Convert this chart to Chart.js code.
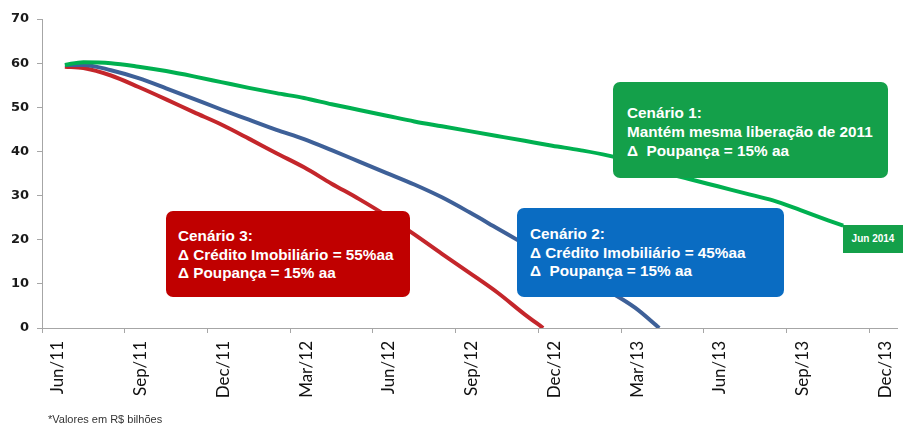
<!DOCTYPE html>
<html><head><meta charset="utf-8">
<script src="https://cdn.jsdelivr.net/npm/chart.js@4/dist/chart.umd.min.js"></script>
<style>
html,body{margin:0;padding:0;background:#fff;}
#wrap{position:relative;width:904px;height:427px;overflow:hidden;}
canvas{position:absolute;left:0;top:0;}
.box{position:absolute;color:#fff;font-family:"Liberation Sans",Arial,sans-serif;font-weight:bold;font-size:15.3px;white-space:pre;box-sizing:border-box;}
#note{position:absolute;left:48px;top:413px;font-family:"Liberation Sans",Arial,sans-serif;font-size:11px;color:#333;white-space:nowrap;}
</style>
</head><body>
<div id="wrap">
<canvas id="c" width="904" height="427"></canvas>
<div class="box" style="left:613px;top:82px;width:275px;height:96px;border-radius:7px;background:#14a04a;padding:21px 0 0 14px;line-height:19px;">Cenário 1:
Mantém mesma liberação de 2011
Δ  Poupança = 15% aa</div>
<div class="box" style="left:843px;top:225px;width:60px;height:28px;background:#14a04a;font-size:10px;line-height:28px;text-align:center;">Jun 2014</div>
<div class="box" style="left:517px;top:208px;width:267px;height:89px;border-radius:7px;background:#0a6cc2;padding:17px 0 0 13px;line-height:18.5px;">Cenário 2:
Δ Crédito Imobiliário = 45%aa
Δ  Poupança = 15% aa</div>
<div class="box" style="left:166px;top:211px;width:244px;height:86px;border-radius:7px;background:#c00000;padding:16px 0 0 12px;line-height:18.5px;">Cenário 3:
Δ Crédito Imobiliário = 55%aa
Δ Poupança = 15% aa</div>
<div id="note">*Valores em R$ bilhões</div>
</div>
<script>
// month positions (Jun/11 = 0)
const tickLabels = ['Jun/11','Sep/11','Dec/11','Mar/12','Jun/12','Sep/12','Dec/12','Mar/13','Jun/13','Sep/13','Dec/13'];

const greenX = [0.33,1,2,3,4,5,6,7,8,9,10,11,12,13,14,15,16,17,18,19,20,21,22,23,24,25,26,27,28,28.55];
const greenY = [59.6,60.2,60.0,59.2,58.2,57.0,55.7,54.4,53.2,52.1,50.7,49.4,48.1,46.8,45.7,44.6,43.5,42.4,41.3,40.3,39.1,37.4,35.4,33.7,32.1,30.5,28.9,26.7,24.4,23.2];

const blueX = [0.33,1,2,3,4,5,6,7,8,9,10,11,12,13,14,15,16,17,18,19,20,21,21.88];
const blueY = [59.6,59.6,58.4,56.6,54.3,51.9,49.5,47.2,44.9,42.8,40.3,37.7,35.1,32.5,29.6,26.2,22.6,19.0,15.5,12.0,8.5,4.6,0];

const redX = [0.33,1,2,3,4,5,6,7,8,9,10,11,12,13,14,15,16,17,17.67];
const redY = [59.2,58.9,57.2,54.6,51.8,48.9,46.1,42.9,39.6,36.4,32.7,29.2,25.4,21.2,16.8,12.5,8.1,3.1,0];

const pts = (xs, ys) => xs.map((x, i) => ({x: x, y: ys[i]}));

new Chart(document.getElementById('c'), {
  type: 'line',
  data: {
    datasets: [
      {data: pts(greenX, greenY), borderColor: '#00b050', borderWidth: 4, pointRadius: 0, cubicInterpolationMode: 'monotone'},
      {data: pts(blueX, blueY), borderColor: '#3e6098', borderWidth: 4, pointRadius: 0, cubicInterpolationMode: 'monotone'},
      {data: pts(redX, redY), borderColor: '#c4262b', borderWidth: 4, pointRadius: 0, cubicInterpolationMode: 'monotone'}
    ]
  },
  options: {
    responsive: false,
    animation: false,
    layout: {padding: {top: 19, right: 7, left: 0, bottom: 0}},
    plugins: {legend: {display: false}, tooltip: {enabled: false}},
    scales: {
      x: {
        type: 'linear', min: -0.5, max: 30.5,
        afterBuildTicks: s => { s.ticks = tickLabels.map((l, i) => ({value: i * 3 - 0.5})); },
        afterFit: s => { s.height = 99; },
        ticks: {autoSkip: false, minRotation: 90, maxRotation: 90, labelOffset: 16, padding: 8,
          font: {family: 'Lato', size: 17}, color: '#111',
          callback: (v, i) => tickLabels[i]},
        grid: {drawOnChartArea: false, drawTicks: true, tickLength: 5, color: '#a6a6a6'},
        border: {color: '#a6a6a6', width: 1}
      },
      y: {
        min: 0, max: 70,
        afterFit: s => { s.width = 42; },
        ticks: {stepSize: 10, padding: 8, font: {family: 'DejaVu Sans', size: 13, weight: 'bold'}, color: '#1a1a1a'},
        grid: {drawOnChartArea: false, drawTicks: true, tickLength: 5, color: '#a6a6a6'},
        border: {color: '#a6a6a6', width: 1}
      }
    }
  }
});
</script>
</body></html>
